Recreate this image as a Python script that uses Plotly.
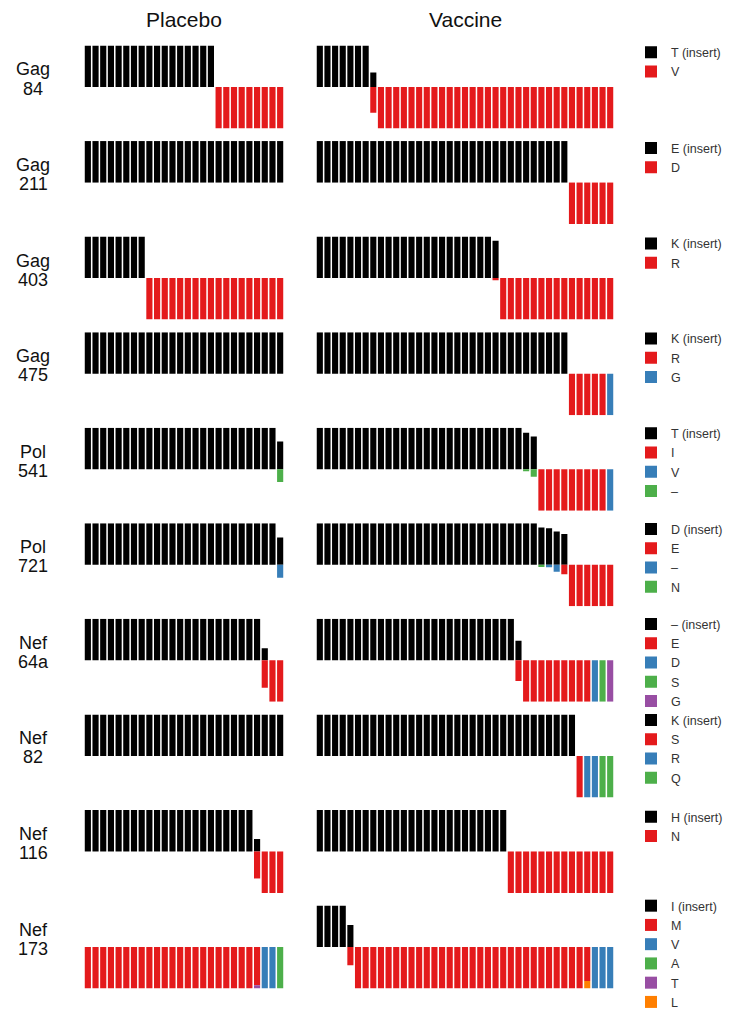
import plotly.graph_objects as go

W, H = 729, 1009

ARMS = ["Placebo", "Vaccine"]

SITE_GENES = ["Gag", "Gag", "Gag", "Gag", "Pol", "Pol", "Nef", "Nef", "Nef", "Nef"]
SITE_POSITIONS = ["84", "211", "403", "475", "541", "721", "64a", "82", "116", "173"]

# Residues per site: the insert residue first, then the other residues seen
SITE_RESIDUES = [
    ["T (insert)", "V"],
    ["E (insert)", "D"],
    ["K (insert)", "R"],
    ["K (insert)", "R", "G"],
    ["T (insert)", "I", "V", "–"],
    ["D (insert)", "E", "–", "N"],
    ["– (insert)", "E", "D", "S", "G"],
    ["K (insert)", "S", "R", "Q"],
    ["H (insert)", "N"],
    ["I (insert)", "M", "V", "A", "T", "L"],
]

RESIDUE_COLORS = ["#000000", "#e41a1c", "#377eb8", "#4daf4a", "#984ea3", "#ff7f00"]

# Per-subject residue fractions, written as runs: (number of subjects, fractions per residue)
GAG84_PLACEBO = [(17, (1, 0)), (9, (0, 1))]
GAG84_VACCINE = [(7, (1, 0)), (1, (0.35, 0.62)), (31, (0, 1))]
GAG211_PLACEBO = [(26, (1, 0))]
GAG211_VACCINE = [(33, (1, 0)), (6, (0, 1))]
GAG403_PLACEBO = [(8, (1, 0)), (18, (0, 1))]
GAG403_VACCINE = [(23, (1, 0)), (1, (0.9, 0.05)), (15, (0, 1))]
GAG475_PLACEBO = [(26, (1, 0, 0))]
GAG475_VACCINE = [(33, (1, 0, 0)), (5, (0, 1, 0)), (1, (0, 0, 1))]
POL541_PLACEBO = [(25, (1, 0, 0, 0)), (1, (0.67, 0, 0, 0.31))]
POL541_VACCINE = [(27, (1, 0, 0, 0)), (1, (0.88, 0, 0, 0.05)), (1, (0.79, 0, 0, 0.18)),
                  (9, (0, 1, 0, 0)), (1, (0, 0, 1, 0))]
POL721_PLACEBO = [(25, (1, 0, 0, 0)), (1, (0.66, 0, 0.31, 0))]
POL721_VACCINE = [(29, (1, 0, 0, 0)), (1, (0.9, 0, 0, 0.05)), (1, (0.88, 0, 0.06, 0)),
                  (1, (0.8, 0, 0.17, 0)), (1, (0.74, 0.23, 0, 0)), (6, (0, 1, 0, 0))]
NEF64_PLACEBO = [(23, (1, 0, 0, 0, 0)), (1, (0.29, 0.66, 0, 0, 0)), (2, (0, 1, 0, 0, 0))]
NEF64_VACCINE = [(26, (1, 0, 0, 0, 0)), (1, (0.47, 0.5, 0, 0, 0)), (9, (0, 1, 0, 0, 0)),
                 (1, (0, 0, 1, 0, 0)), (1, (0, 0, 0, 1, 0)), (1, (0, 0, 0, 0, 1))]
NEF82_PLACEBO = [(26, (1, 0, 0, 0))]
NEF82_VACCINE = [(34, (1, 0, 0, 0)), (1, (0, 1, 0, 0)), (2, (0, 0, 1, 0)), (2, (0, 0, 0, 1))]
NEF116_PLACEBO = [(22, (1, 0)), (1, (0.3, 0.65)), (3, (0, 1))]
NEF116_VACCINE = [(25, (1, 0)), (14, (0, 1))]
NEF173_PLACEBO = [(22, (0, 1, 0, 0, 0, 0)), (1, (0, 0.92, 0, 0, 0.08, 0)),
                  (2, (0, 0, 1, 0, 0, 0)), (1, (0, 0, 0, 1, 0, 0))]
NEF173_VACCINE = [(4, (1, 0, 0, 0, 0, 0)), (1, (0.53, 0.44, 0, 0, 0, 0)), (30, (0, 1, 0, 0, 0, 0)),
                  (1, (0, 0.82, 0, 0, 0, 0.18)), (3, (0, 0, 1, 0, 0, 0))]

SITE_DATA = [
    (GAG84_PLACEBO, GAG84_VACCINE),
    (GAG211_PLACEBO, GAG211_VACCINE),
    (GAG403_PLACEBO, GAG403_VACCINE),
    (GAG475_PLACEBO, GAG475_VACCINE),
    (POL541_PLACEBO, POL541_VACCINE),
    (POL721_PLACEBO, POL721_VACCINE),
    (NEF64_PLACEBO, NEF64_VACCINE),
    (NEF82_PLACEBO, NEF82_VACCINE),
    (NEF116_PLACEBO, NEF116_VACCINE),
    (NEF173_PLACEBO, NEF173_VACCINE),
]


def expand(runs):
    out = []
    for count, fr in runs:
        out.extend([fr] * count)
    return out


# Panel geometry (pixels)
ARM_X = [(84, 284), (316, 614)]
ROW_TOP0 = 45.5
ROW_STEP = 95.56
ROW_H = 83.0
LEGEND_FONT = 12.5
LEGEND_ITEM = 19.25     # height of one legend entry at that font size
FONT = "Arial, Liberation Sans, sans-serif"

fig = go.Figure()
layout = dict(
    width=W, height=H,
    margin=dict(l=0, r=0, t=0, b=0, autoexpand=False),
    paper_bgcolor="white", plot_bgcolor="white",
    barmode="relative", bargap=0.2,
    font=dict(family=FONT, color="#222"),
    showlegend=True,
)

for r, (residues, arms) in enumerate(zip(SITE_RESIDUES, SITE_DATA)):
    top = ROW_TOP0 + r * ROW_STEP
    bottom = top + ROW_H
    legend_name = "legend" if r == 0 else f"legend{r + 1}"
    for c, runs in enumerate(arms):
        idx = r * 2 + c + 1
        suffix = "" if idx == 1 else str(idx)
        subjects = expand(runs)
        n = len(subjects)
        xs = list(range(n))
        for k, res in enumerate(residues):
            ys = []
            for fr in subjects:
                v = fr[k]
                ys.append(None if v == 0 else (v if k == 0 else -v))
            fig.add_trace(go.Bar(
                x=xs, y=ys, name=res,
                xaxis="x" + suffix, yaxis="y" + suffix,
                marker=dict(color=RESIDUE_COLORS[k], line=dict(width=0)),
                legend=legend_name, legendgroup=f"{r}-{k}",
                showlegend=(c == 0), hoverinfo="skip",
            ))
        x0, x1 = ARM_X[c]
        layout["xaxis" + suffix] = dict(
            domain=[x0 / W, x1 / W], range=[-0.5, n - 0.5],
            visible=False, fixedrange=True,
        )
        layout["yaxis" + suffix] = dict(
            domain=[1 - bottom / H, 1 - top / H], range=[-1, 1],
            visible=False, fixedrange=True,
        )
    # first legend entry near the top of the row, keeping the last one on the page
    n_items = len(residues)
    first_item = top + 7.5 - (n_items - 1) * 0.6
    first_item = min(first_item, H - 7 - (n_items - 1) * LEGEND_ITEM)
    legend_top = first_item - 14.7
    layout[legend_name] = dict(
        x=631 / W, y=1 - legend_top / H, xanchor="left", yanchor="top",
        traceorder="normal", font=dict(family=FONT, size=LEGEND_FONT, color="#333"),
        bgcolor="rgba(0,0,0,0)", itemclick=False, itemdoubleclick=False,
        tracegroupgap=0,
    )

annotations = []
for c, arm in enumerate(ARMS):
    x0, x1 = ARM_X[c]
    annotations.append(dict(
        text=arm, x=(x0 + x1) / 2 / W, y=1 - 20 / H, xref="paper", yref="paper",
        showarrow=False, xanchor="center", yanchor="middle",
        font=dict(family=FONT, size=21, color="#111"),
    ))
for r, (gene, pos) in enumerate(zip(SITE_GENES, SITE_POSITIONS)):
    top = ROW_TOP0 + r * ROW_STEP
    for text, dy in ((gene, 24.0), (pos, 43.0)):
        annotations.append(dict(
            text=text, x=33 / W, y=1 - (top + dy) / H, xref="paper", yref="paper",
            showarrow=False, xanchor="center", yanchor="middle",
            font=dict(family=FONT, size=18, color="#111"),
        ))
layout["annotations"] = annotations

fig.update_layout(**layout)
fig.write_html("out.html")
